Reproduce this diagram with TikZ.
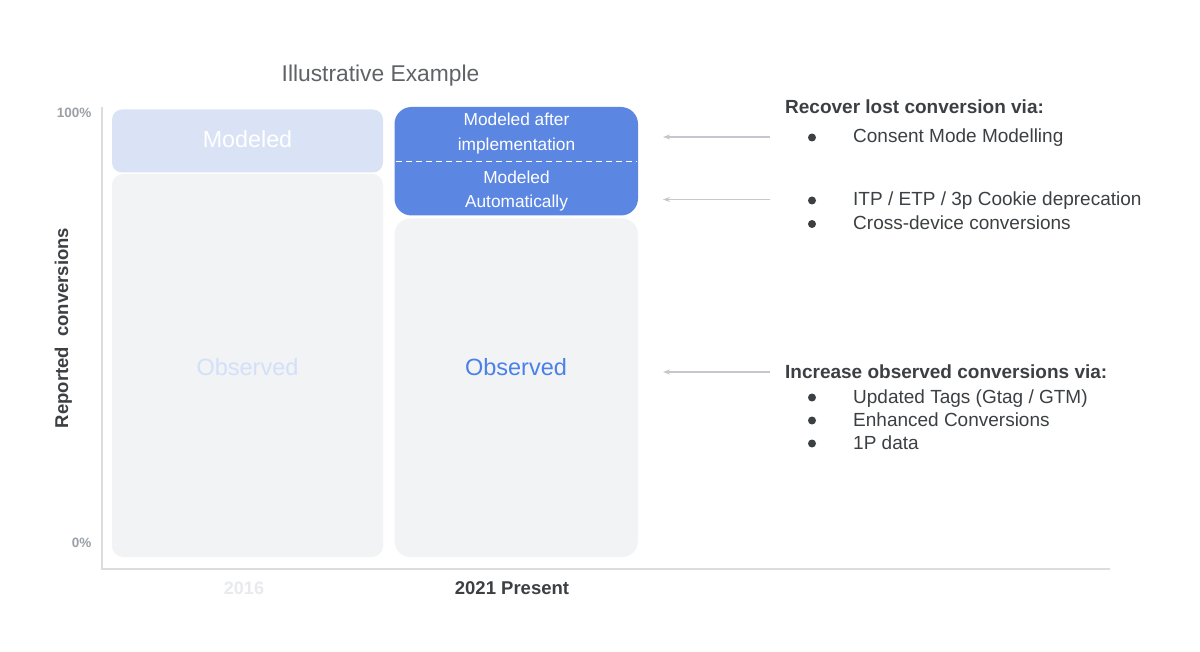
\documentclass[tikz,border=0pt]{standalone}
\usepackage{fontspec}
\setmainfont{Liberation Sans}
\usetikzlibrary{arrows.meta}
\definecolor{modlight}{HTML}{DAE3F6}
\definecolor{obsgray}{HTML}{F1F3F4}
\definecolor{modblue}{HTML}{5B87E3}
\definecolor{obstextlight}{HTML}{D3E0FA}
\definecolor{obstextblue}{HTML}{4A80E8}
\definecolor{axisgray}{HTML}{DADCE0}
\definecolor{ticktext}{HTML}{9AA0A6}
\definecolor{titlegray}{HTML}{5F6368}
\definecolor{darktext}{HTML}{3C4043}
\definecolor{arrowgray}{HTML}{C4C7CC}
\definecolor{yearlight}{HTML}{E8EAED}
\tikzset{
  x=1pt, y=-1pt,
  fsz/.style={font=\fontsize{#1}{#1}\selectfont},
  item/.style={anchor=base west, inner sep=0pt, text=darktext, fsz=19},
  head/.style={anchor=base west, inner sep=0pt, text=darktext, font=\fontsize{19}{19}\selectfont\bfseries},
  bul/.style={circle, fill=darktext, minimum size=8pt, inner sep=0pt},
  ptr/.style={draw=arrowgray, line width=1.2pt, -{Stealth[length=7pt,width=5pt]}},
  boxtxt/.style={anchor=base, inner sep=0pt, text=white, fsz=17.3},
}
\begin{document}
\begin{tikzpicture}
\useasboundingbox (0,0) rectangle (1200,652);
\fill[white] (0,0) rectangle (1200,652);

% title
\node[anchor=base, inner sep=0pt, text=titlegray, fsz=22.8] (title) at (380.5,82) {Illustrative Example};

% axes
\coordinate (axtop) at (102,107);
\coordinate (axorig) at (102,569);
\coordinate (axright) at (1110,569);
\draw[axisgray, line width=1.6pt] (axtop) -- (axorig) -- (axright);

\node[anchor=base east, inner sep=0pt, text=ticktext, font=\fontsize{13.5}{13.5}\selectfont\bfseries] (t100) at (91.5,118) {100\%};
\node[anchor=base east, inner sep=0pt, text=ticktext, font=\fontsize{13.5}{13.5}\selectfont\bfseries] (t0) at (91.5,547) {0\%};

\node[anchor=base, rotate=90, inner sep=0pt, text=darktext, font=\fontsize{18.5}{18.5}\selectfont\bfseries] (ylab) at (68,328) {Reported\ \ conversions};

% left bars (2016)
\fill[obsgray, rounded corners=11pt] (112,174) rectangle (383,557);
\fill[modlight, rounded corners=10pt] (112,109.5) rectangle (383,172.5);
\node[anchor=base, inner sep=0pt, text=white, fsz=23.3] (lmod) at (247.5,147.5) {Modeled};
\node[anchor=base, inner sep=0pt, text=obstextlight, fsz=23.5] (lobs) at (247.5,375) {Observed};

% right bars (2021)
\fill[obsgray, rounded corners=16pt] (394.5,218.5) rectangle (638,557);
\fill[modblue, rounded corners=17pt] (394.5,107) rectangle (638,215.5);
\draw[white, line width=1.2pt, dash pattern=on 6pt off 4pt] (396,161.5) -- (637,161.5);
\node[boxtxt] (ra1) at (516.5,126) {Modeled after};
\node[boxtxt] (ra2) at (516.5,151) {implementation};
\node[boxtxt] (rb1) at (516.5,183.5) {Modeled};
\node[boxtxt] (rb2) at (516.5,207.5) {Automatically};
\node[anchor=base, inner sep=0pt, text=obstextblue, fsz=23.5] (robs) at (516,375) {Observed};

% x labels
\node[anchor=base, inner sep=0pt, text=yearlight, font=\fontsize{18}{18}\selectfont\bfseries] (y2016) at (244,594.5) {2016};
\node[anchor=base, inner sep=0pt, text=darktext, font=\fontsize{18.5}{18.5}\selectfont\bfseries] (y2021) at (512,594.5) {2021 Present};

% arrows
\coordinate (a1s) at (770,137);
\coordinate (a1e) at (663,137);
\coordinate (a2s) at (770,199.5);
\coordinate (a2e) at (663,199.5);
\coordinate (a3s) at (770,372);
\coordinate (a3e) at (663,372);
\draw[ptr] (a1s) -- (a1e);
\draw[ptr] (a2s) -- (a2e);
\draw[ptr] (a3s) -- (a3e);

% right text
\node[head] (h1) at (785,114) {Recover lost conversion via:};
\node[bul] (b1) at (812,137.5) {};
\node[item] (i1) at (853,143) {Consent Mode Modelling};
\node[bul] (b2) at (812,200.5) {};
\node[item] (i2) at (853,206) {ITP / ETP / 3p Cookie deprecation};
\node[bul] (b3) at (812,224) {};
\node[item] (i3) at (853,229.5) {Cross-device conversions};

\node[head] (h2) at (785,379) {Increase observed conversions via:};
\node[bul] (b4) at (812,397.5) {};
\node[item] (i4) at (853,403) {Updated Tags (Gtag / GTM)};
\node[bul] (b5) at (812,420.5) {};
\node[item] (i5) at (853,426) {Enhanced Conversions};
\node[bul] (b6) at (812,443.5) {};
\node[item] (i6) at (853,449) {1P data};
\end{tikzpicture}
\end{document}
